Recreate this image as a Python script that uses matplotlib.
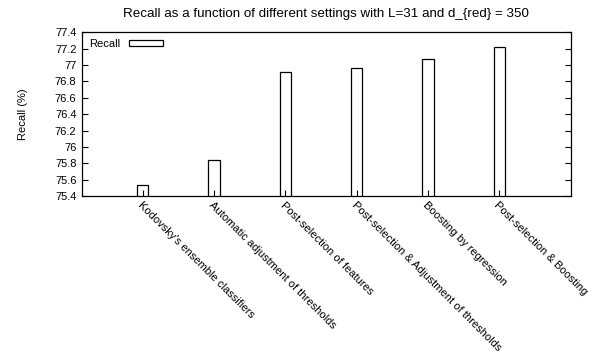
import matplotlib
matplotlib.use("Agg")
from matplotlib import pyplot as plt

settings = ["Kodovsky's ensemble classifiers",
            "Automatic adjustment of thresholds",
            "Post-selection of features",
            "Post-selection & Adjustment of thresholds",
            "Boosting by regression",
            "Post-selection & Boosting"]
recall = [75.54, 75.84, 76.92, 76.96, 77.07, 77.22]

plt.rcParams['font.family'] = ['Liberation Sans', 'DejaVu Sans']
plt.rcParams['font.size'] = 8

fig = plt.figure(figsize=(5.96, 3.52), dpi=100)
ax = fig.add_axes([0.1376, 0.4432, 0.8199, 0.465])

pos = list(range(len(settings)))
ax.bar(pos, recall, width=0.155, bottom=0, color='white', edgecolor='black',
       linewidth=0.9, label='Recall')

ax.set_xlim(-0.85, 6.0)
ax.set_ylim(75.4, 77.4)
ax.set_yticks([75.4 + 0.2 * i for i in range(11)])
ax.set_yticklabels(['75.4', '75.6', '75.8', '76', '76.2', '76.4', '76.6',
                    '76.8', '77', '77.2', '77.4'])
ax.set_xticks(pos)
ax.set_xticklabels(settings, rotation=-45, ha='left', va='top',
                   rotation_mode='anchor')
ax.tick_params(axis='y', direction='in', right=True, length=4, width=0.8, pad=4)
ax.tick_params(axis='x', direction='in', length=4, width=0.8, pad=3)
for s in ax.spines.values():
    s.set_linewidth(0.9)

ax.set_ylabel('Recall (%)', labelpad=19)
ax.set_title('Recall as a function of different settings with L=31 and d_{red} = 350',
             pad=11)

ax.legend(loc='upper left', frameon=False, markerfirst=False,
          handlelength=3.1, handleheight=0.4, borderaxespad=0.2,
          bbox_to_anchor=(0.0, 1.0))

plt.savefig("out.png", dpi=100)
